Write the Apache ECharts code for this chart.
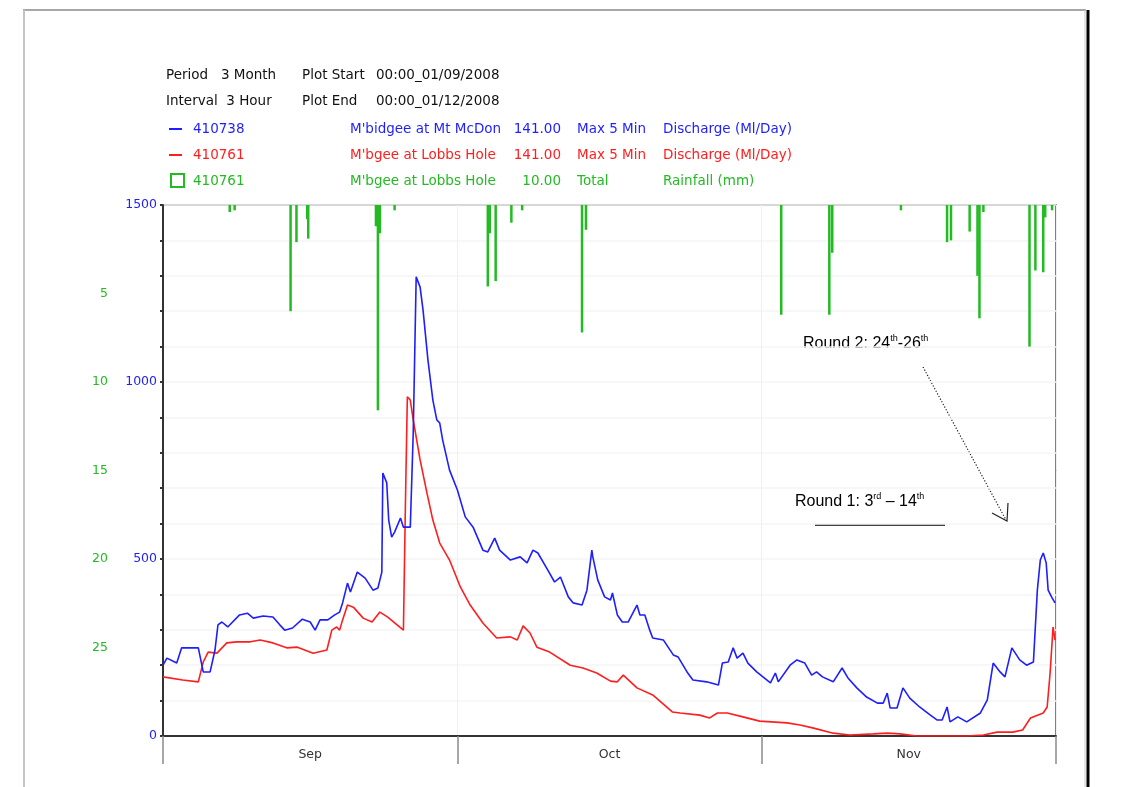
<!DOCTYPE html>
<html>
<head>
<meta charset="utf-8">
<title>Murrumbidgee discharge and rainfall</title>
<script src="https://cdn.jsdelivr.net/npm/echarts@6/dist/echarts.min.js"></script>
<style>
  html, body { margin: 0; padding: 0; background: #ffffff; }
  #chart { width: 1143px; height: 787px; }
</style>
</head>
<body>
<div id="chart"></div>
<script>
// x values are days from 00:00 01/09/2008
const monthNames = ['Sep', 'Oct', 'Nov'];
const monthMidDays = [15, 45.5, 76];
const monthEdgeDays = [0, 30, 61, 91];
const flowLabels = [0, 500, 1000, 1500];
const rainLabels = [5, 10, 15, 20, 25];

// 410738 Murrumbidgee at Mt MacDonald, discharge (Ml/Day)
const blueDays = [0.0, 0.4, 1.4, 1.9, 3.6, 4.1, 4.8, 5.3, 5.6, 6.0, 6.6, 7.8, 8.6, 9.2, 10.2, 11.2, 11.9, 12.4, 13.2, 14.2,
  15.0, 15.5, 16.0, 16.8, 17.5, 18.0, 18.3, 18.8, 19.1, 19.8, 20.6, 21.4, 21.9, 22.3, 22.4, 22.8, 23.0, 23.3, 23.6, 24.2,
  24.5, 25.2, 25.5, 25.8, 26.2, 26.5, 27.0, 27.5, 27.9, 28.2, 28.5, 29.2, 30.0, 30.8, 31.6, 32.6, 33.1, 33.8, 34.3, 35.4,
  36.4, 37.1, 37.7, 38.2, 39.2, 39.9, 40.5, 41.3, 41.8, 42.7, 43.2, 43.7, 43.8, 44.3, 45.0, 45.6, 45.8, 46.3, 46.8, 47.4,
  48.3, 48.6, 49.1, 49.6, 49.9, 51.0, 52.0, 52.5, 53.4, 54.0, 55.4, 56.6, 57.0, 57.6, 58.1, 58.5, 59.1, 59.6, 60.5, 61.9,
  62.4, 62.7, 63.9, 64.6, 65.4, 66.1, 66.6, 67.2, 68.3, 69.2, 69.8, 70.7, 71.7, 72.8, 73.4, 73.8, 74.1, 74.8, 75.4, 76.1,
  77.1, 78.2, 78.9, 79.4, 79.9, 80.2, 81.0, 81.9, 83.3, 84.0, 84.6, 85.3, 85.8, 86.5, 87.3, 88.0, 88.7, 89.1, 89.4, 89.7,
  90.0, 90.2, 90.6, 90.9];
const blueFlow = [200, 220, 206, 249, 249, 181, 181, 243, 314, 322, 308, 342, 347, 333, 339, 336, 314, 299, 305, 330,
  322, 299, 328, 328, 342, 350, 376, 432, 407, 463, 446, 412, 418, 463, 743, 715, 610, 562, 576, 616,
  590, 590, 856, 1297, 1268, 1203, 1062, 949, 893, 884, 836, 751, 695, 619, 590, 525, 520, 559, 525, 497,
  506, 489, 525, 517, 469, 435, 449, 393, 376, 370, 412, 525, 506, 441, 393, 384, 404, 342, 322, 322,
  370, 342, 342, 299, 277, 271, 229, 223, 181, 158, 153, 144, 206, 209, 249, 220, 234, 206, 181, 150,
  178, 153, 200, 215, 206, 172, 181, 167, 153, 192, 164, 136, 110, 93, 93, 121, 79, 79, 136, 107,
  82, 59, 45, 45, 82, 40, 54, 40, 65, 102, 206, 181, 167, 249, 215, 200, 209, 412, 497, 517,
  489, 412, 390, 376];

// 410761 Murrumbidgee at Lobbs Hole, discharge (Ml/Day)
const redDays = [0.0, 2.0, 3.6, 4.1, 4.6, 5.5, 6.5, 7.5, 8.9, 9.9, 11.2, 12.6, 13.7, 15.3, 16.7, 17.2, 17.7, 18.0, 18.3, 18.8,
  19.4, 20.4, 21.3, 22.1, 22.9, 24.5, 24.7, 24.9, 25.2, 25.5, 26.2, 26.9, 27.5, 28.2, 29.2, 30.3, 31.3, 32.6, 34.0, 35.4,
  36.1, 36.7, 37.4, 38.1, 39.4, 41.5, 42.8, 44.2, 45.6, 46.3, 46.9, 48.3, 49.9, 51.9, 52.7, 54.7, 55.7, 56.5, 57.5, 59.1,
  60.8, 63.6, 64.9, 66.2, 68.3, 70.0, 72.4, 73.8, 75.1, 76.8, 78.5, 81.9, 83.6, 85.0, 86.6, 87.6, 88.4, 89.7, 90.1, 90.4,
  90.7, 90.9];
const redFlow = [167, 158, 153, 209, 237, 234, 263, 266, 266, 271, 263, 249, 251, 234, 243, 299, 308, 299, 328, 370,
  364, 333, 322, 350, 336, 299, 650, 958, 949, 893, 780, 686, 610, 545, 497, 421, 370, 319, 277, 280,
  271, 311, 291, 251, 237, 200, 192, 178, 155, 153, 172, 136, 116, 68, 65, 59, 51, 65, 65, 54,
  42, 37, 31, 23, 8, 3, 6, 8, 6, 0, 0, 0, 3, 11, 11, 17, 51, 65, 82, 178,
  308, 271];

// 410761 Lobbs Hole, total rainfall (mm) per 3 hours
const rainDays = [6.8, 7.3, 13.0, 13.6, 14.7, 14.8, 21.7, 21.9, 22.1, 23.6, 33.1, 33.3, 33.9, 35.5, 36.6, 42.7, 43.1,
  63.0, 67.9, 68.2, 75.2, 79.9, 80.3, 82.2, 83.0, 83.2, 83.6, 88.3, 88.9, 89.7, 89.9, 90.6];
const rainMm = [0.4, 0.3, 6.0, 2.1, 0.8, 1.9, 1.2, 11.6, 1.6, 0.3, 4.6, 1.6, 4.3, 1.0, 0.3, 7.2, 1.4,
  6.2, 6.2, 2.7, 0.3, 2.1, 2.0, 1.5, 4.0, 6.4, 0.4, 8.0, 3.7, 3.8, 0.7, 0.3];

const BLUE = '#1e1eff';
const RED = '#ff1e1e';
const GREEN = '#22bb22';
const FONT = '"DejaVu Sans", sans-serif';

function pairs(xs, ys) {
  return xs.map(function (x, i) { return [x, ys[i]]; });
}

function txt(x, y, s, color, align) {
  return {
    type: 'text',
    style: {
      x: x, y: y, text: s, fill: color || '#111',
      font: '13.5px ' + FONT,
      align: align || 'left', verticalAlign: 'middle'
    }
  };
}

function seg(x1, y1, x2, y2, color, width, dash) {
  return {
    type: 'line',
    shape: { x1: x1, y1: y1, x2: x2, y2: y2 },
    style: { stroke: color, lineWidth: width, lineDash: dash || null }
  };
}

const header = [
  txt(166, 75, 'Period   3 Month'), txt(302, 75, 'Plot Start'), txt(376, 75, '00:00_01/09/2008'),
  txt(166, 101, 'Interval  3 Hour'), txt(302, 101, 'Plot End'), txt(376, 101, '00:00_01/12/2008'),
  seg(169, 129, 182, 129, BLUE, 2),
  txt(193, 129, '410738', BLUE), txt(350, 129, "M'bidgee at Mt McDon", BLUE), txt(561, 129, '141.00', BLUE, 'right'),
  txt(577, 129, 'Max 5 Min', BLUE), txt(663, 129, 'Discharge (Ml/Day)', BLUE),
  seg(169, 155, 182, 155, RED, 2),
  txt(193, 155, '410761', RED), txt(350, 155, "M'bgee at Lobbs Hole", RED), txt(561, 155, '141.00', RED, 'right'),
  txt(577, 155, 'Max 5 Min', RED), txt(663, 155, 'Discharge (Ml/Day)', RED),
  { type: 'rect', shape: { x: 171, y: 174, width: 13, height: 13 }, style: { fill: 'none', stroke: GREEN, lineWidth: 2 } },
  txt(193, 181, '410761', GREEN), txt(350, 181, "M'bgee at Lobbs Hole", GREEN), txt(561, 181, '10.00', GREEN, 'right'),
  txt(577, 181, 'Total', GREEN), txt(663, 181, 'Rainfall (mm)', GREEN)
];

const supRich = {
  n: { fontFamily: '"Liberation Sans", Arial, sans-serif', fontSize: 16, color: '#000', lineHeight: 18, verticalAlign: 'bottom' },
  s: { fontFamily: '"Liberation Sans", Arial, sans-serif', fontSize: 9, color: '#000', lineHeight: 18, verticalAlign: 'top' }
};

const notes = [
  { type: 'text', style: { x: 803, y: 343, text: '{n|Round 2: 24}{s|th}{n|-26}{s|th}', rich: supRich, verticalAlign: 'middle' } },
  { type: 'text', style: { x: 795, y: 501, text: '{n|Round 1: 3}{s|rd}{n| \u2013 14}{s|th}', rich: supRich, verticalAlign: 'middle' } },
  seg(815, 525, 945, 525, '#000', 1.5),
  seg(923, 367, 1006, 520, '#222', 1.2, [1.2, 1.8]),
  { type: 'polyline', shape: { points: [[992, 513], [1007, 521], [1008, 503]] }, style: { stroke: '#222', lineWidth: 1.2, fill: 'none' } },
  // page frame
  seg(23, 10, 1086, 10, '#a8a8a8', 2),
  seg(24, 10, 24, 787, '#c4c4c4', 2),
  seg(1085, 10, 1085, 787, '#c8c8c8', 1),
  seg(1088, 10, 1088, 787, '#000', 3)
];

const chart = echarts.init(document.getElementById('chart'));
chart.setOption({
  backgroundColor: '#ffffff',
  animation: false,
  textStyle: { fontFamily: FONT },
  grid: {
    left: 163, right: 87, top: 205, bottom: 51,
    show: true, borderColor: '#555', borderWidth: 1.5
  },
  xAxis: {
    type: 'value', min: 0, max: 91,
    axisLine: { lineStyle: { color: '#333', width: 2 } },
    axisTick: { show: true, length: 28, customValues: monthEdgeDays, lineStyle: { color: '#8a8a8a', width: 1.5 } },
    axisLabel: {
      customValues: monthMidDays, margin: 12, color: '#333', fontSize: 12.5, fontFamily: FONT,
      formatter: function (v) { return monthNames[monthMidDays.indexOf(v)] || ''; }
    },
    splitLine: { show: true, lineStyle: { color: '#f0f0f0' } }
  },
  yAxis: [
    {
      type: 'value', min: 0, max: 1500, interval: 100, position: 'left',
      axisLine: { show: true, lineStyle: { color: '#333', width: 2 } },
      axisTick: { show: true, length: 3, lineStyle: { color: '#333', width: 2 } },
      axisLabel: {
        color: BLUE, fontSize: 12.5, fontFamily: FONT, margin: 6,
        formatter: function (v) { return flowLabels.indexOf(v) >= 0 ? String(v) : ''; }
      },
      splitLine: { show: true, lineStyle: { color: '#f5f5f5', width: 1.5 } }
    },
    {
      type: 'value', min: 0, max: 30, interval: 5, inverse: true, position: 'left', offset: 49,
      axisLine: { show: false }, axisTick: { show: false }, splitLine: { show: false },
      axisLabel: {
        color: GREEN, fontSize: 12.5, fontFamily: FONT, margin: 6,
        formatter: function (v) { return rainLabels.indexOf(v) >= 0 ? String(v) : ''; }
      }
    }
  ],
  series: [
    {
      name: 'Rainfall', type: 'bar', yAxisIndex: 1, barWidth: 2.5,
      itemStyle: { color: GREEN },
      data: pairs(rainDays, rainMm)
    },
    {
      name: '410761', type: 'line', symbol: 'none',
      lineStyle: { color: RED, width: 1.6 },
      data: pairs(redDays, redFlow)
    },
    {
      name: '410738', type: 'line', symbol: 'none',
      lineStyle: { color: BLUE, width: 1.6 },
      data: pairs(blueDays, blueFlow)
    }
  ],
  graphic: header.concat(notes)
});
</script>
</body>
</html>
